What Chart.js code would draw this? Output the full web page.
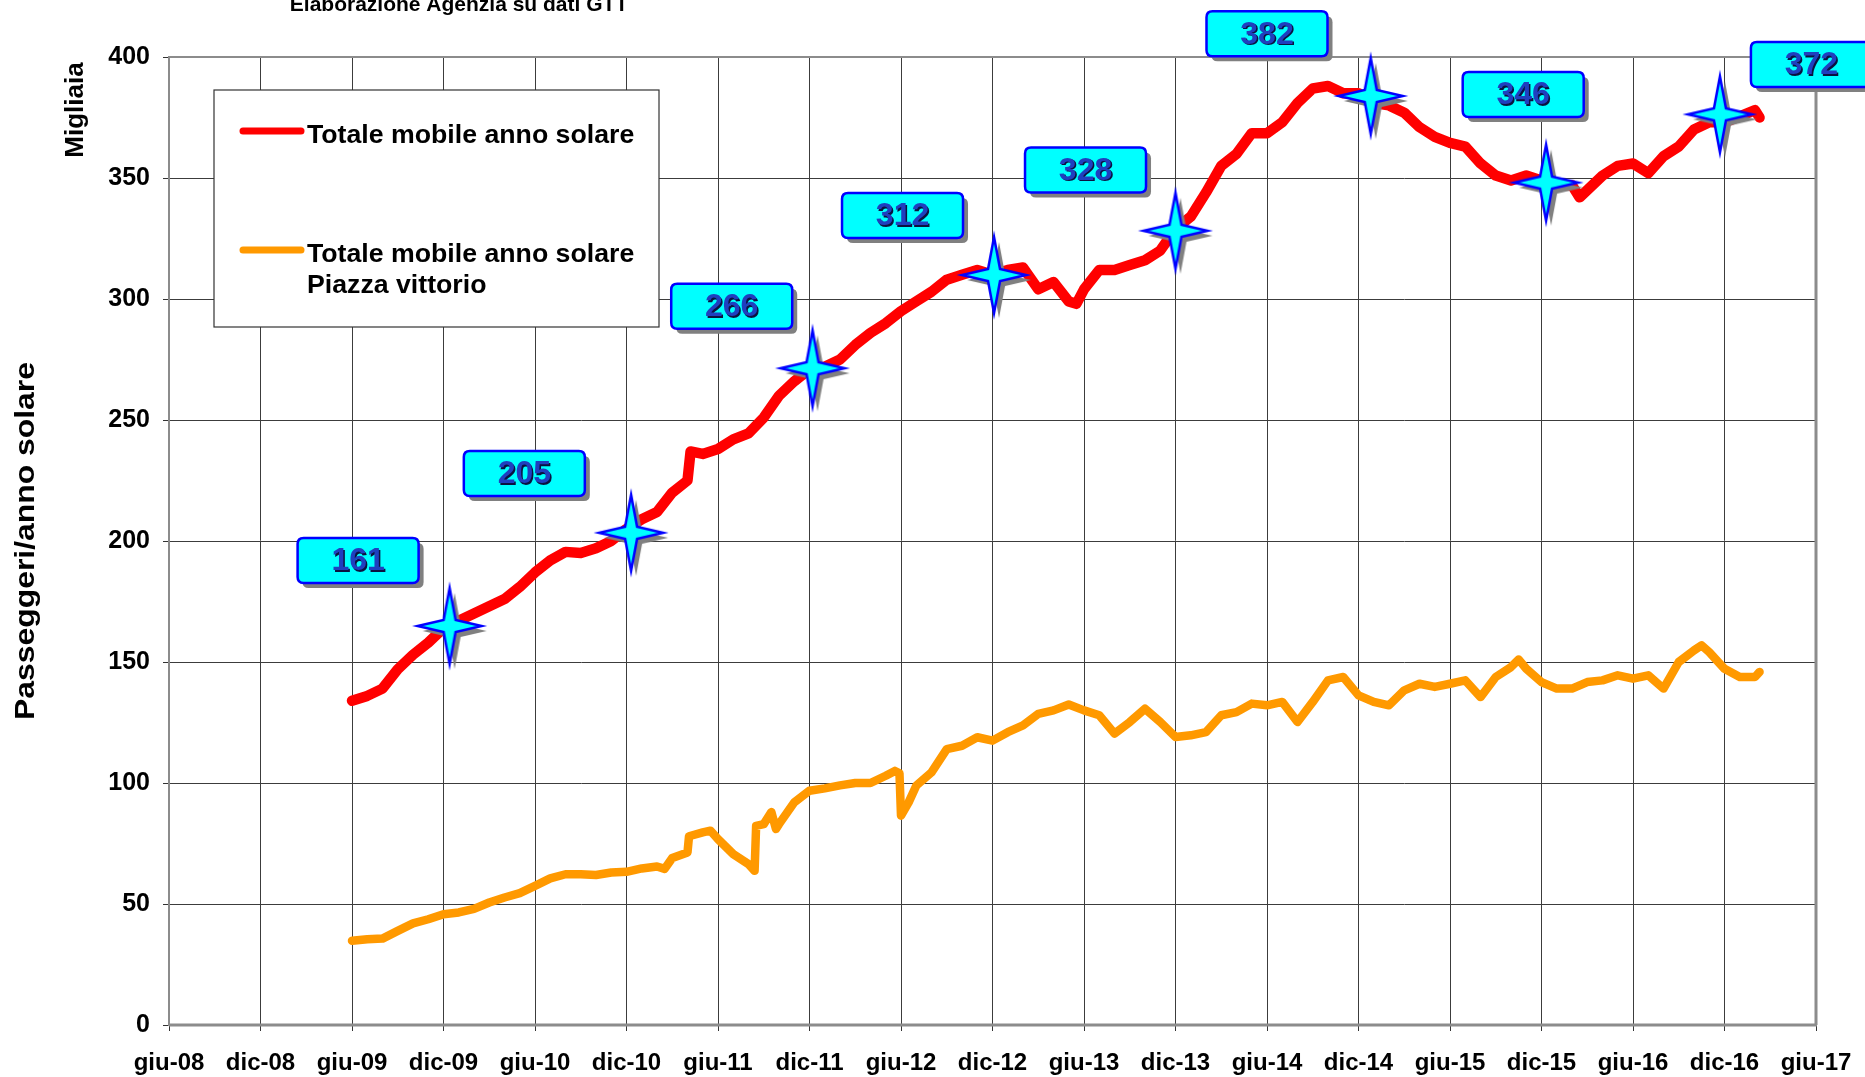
<!DOCTYPE html>
<html>
<head>
<meta charset="utf-8">
<script src="https://cdn.jsdelivr.net/npm/chart.js@4/dist/chart.umd.min.js"></script>
<style>
  body { margin: 0; background: #fff; }
  #passChart { display: block; }
</style>
</head>
<body>
<canvas id="passChart" width="1865" height="1077"></canvas>
<script>
// months counted from giu-08 (0) to giu-17 (108)
const xLabels = ['giu-08', 'dic-08', 'giu-09', 'dic-09', 'giu-10', 'dic-10', 'giu-11', 'dic-11',
  'giu-12', 'dic-12', 'giu-13', 'dic-13', 'giu-14', 'dic-14', 'giu-15', 'dic-15', 'giu-16', 'dic-16', 'giu-17'];

const redMonths = [12, 13, 14, 15, 16, 17, 18, 19, 20, 21, 22, 23, 24, 25, 26, 27, 28, 29, 30, 31, 32, 33, 34, 34.2,
  35, 36, 37, 38, 39, 40, 41, 42, 43, 44, 45, 46, 47, 48, 49, 50, 51, 52, 53, 54, 55, 56, 57, 58, 59, 59.5,
  60, 61, 62, 63, 64, 65, 66, 67, 68, 69, 70, 71, 72, 73, 74, 75, 76, 77, 78, 79, 80, 81, 82, 83, 84, 85,
  86, 87, 88, 89, 90, 91, 92, 92.5, 93, 94, 95, 96, 97, 98, 99, 100, 101, 102, 103, 104, 104.3];
const redValues = [134, 136, 139, 147, 153, 158, 164, 167, 170, 173, 176, 181, 187, 192, 195.5, 195, 197, 200, 205, 209, 212, 220, 225, 237,
  236, 238, 242, 244.5, 251, 260, 266, 271, 272, 275, 281, 286, 290, 295, 299, 303, 308, 310, 312, 310, 312, 313, 304, 307, 299, 298,
  304, 312, 312, 314, 316, 320, 329, 334, 344, 355, 360, 368.5, 368.5, 373, 381, 387, 388, 385, 385, 381, 380, 377, 371, 367, 364.5, 363,
  356, 351, 349, 351, 349, 347, 347, 342, 345, 351, 355, 356, 352, 359, 363, 370, 373, 373, 375.5, 378, 375];

const orangeMonths = [12, 13, 14, 15, 16, 17, 18, 19, 20, 21, 22, 23, 24, 25, 26, 27, 28, 29, 30, 31, 32, 32.5, 33, 34, 34.1,
  35, 35.5, 36, 37, 38, 38.4, 38.5, 39, 39.5, 39.8, 40, 41, 42, 43, 44, 45, 46, 47, 47.6, 47.9, 48, 48.5, 49, 50,
  51, 52, 53, 54, 55, 56, 57, 58, 59, 60, 61, 62, 63, 64, 65, 66, 67, 68, 69, 70, 71, 72, 73, 74, 75, 76, 77, 78,
  79, 80, 81, 82, 83, 84, 85, 86, 87, 88, 88.5, 89, 90, 91, 92, 93, 94, 95, 96, 97, 98, 99, 100, 100.5, 101, 102,
  103, 104, 104.3];
const orangeValues = [34.8, 35.4, 35.7, 38.9, 42, 43.7, 45.8, 46.5, 48, 50.6, 52.7, 54.5, 57.5, 60.6, 62.3, 62.3, 62, 63, 63.3, 64.7, 65.5, 64.5, 69, 71.3, 78,
  79.6, 80.3, 76.8, 70.6, 66.5, 63.7, 82.3, 83, 88, 81, 83, 92, 96.8, 97.8, 99, 100, 100, 103, 105, 104, 86.5, 92, 98.9, 104.4,
  114, 115.4, 118.9, 117.5, 121, 123.8, 128.6, 130, 132.4, 130, 128, 120.4, 125.2, 130.7, 125.2, 119, 119.7, 121, 128, 129.3, 132.8, 132.1, 133.5, 125.2, 133.5, 142.4, 143.8, 136.2,
  133.5, 132.1, 138.3, 141, 139.7, 141, 142.4, 135.5, 143.8, 147.9, 151, 147.2, 141.7, 139, 139, 141.7, 142.4, 144.5, 143.1, 144.5, 139, 150, 154.8, 156.9, 154.1, 147.2,
  143.8, 143.8, 145.9];

// highlighted points (stars) and their callout boxes
const starMonths = [18.4, 30.3, 42.2, 54.1, 66.0, 78.8, 90.3, 101.7];
const starValues = [164.9, 203.4, 271.4, 309.9, 328.2, 383.9, 348.1, 376.3];
const calloutText = ['161', '205', '266', '312', '328', '382', '346', '372'];
const calloutMonths = [12.4, 23.3, 36.9, 48.1, 60.1, 72.0, 88.8, 107.7];
const calloutValues = [191.9, 227.9, 297, 334.5, 353.3, 409.6, 384.5, 396.9];

const FONT = '"Liberation Sans", Arial, sans-serif';

function pairs(xs, ys) {
  return xs.map((x, i) => ({ x: x, y: ys[i] }));
}

function makeStar() {
  const c = document.createElement('canvas');
  c.width = 80;
  c.height = 96;
  const g = c.getContext('2d');
  const cx = 40, cy = 48, rx = 32, ry = 38, k = 6;
  const shape = (dx, dy) => {
    g.beginPath();
    g.moveTo(cx + dx, cy - ry + dy);
    g.lineTo(cx + k + dx, cy - k + dy);
    g.lineTo(cx + rx + dx, cy + dy);
    g.lineTo(cx + k + dx, cy + k + dy);
    g.lineTo(cx + dx, cy + ry + dy);
    g.lineTo(cx - k + dx, cy + k + dy);
    g.lineTo(cx - rx + dx, cy + dy);
    g.lineTo(cx - k + dx, cy - k + dy);
    g.closePath();
  };
  shape(5, 5);
  g.fillStyle = '#808080';
  g.fill();
  shape(0, 0);
  g.fillStyle = '#00ffff';
  g.fill();
  g.lineWidth = 2.5;
  g.strokeStyle = '#0000ff';
  g.stroke();
  return c;
}

function roundRect(ctx, x, y, w, h, r) {
  ctx.beginPath();
  ctx.moveTo(x + r, y);
  ctx.lineTo(x + w - r, y);
  ctx.quadraticCurveTo(x + w, y, x + w, y + r);
  ctx.lineTo(x + w, y + h - r);
  ctx.quadraticCurveTo(x + w, y + h, x + w - r, y + h);
  ctx.lineTo(x + r, y + h);
  ctx.quadraticCurveTo(x, y + h, x, y + h - r);
  ctx.lineTo(x, y + r);
  ctx.quadraticCurveTo(x, y, x + r, y);
  ctx.closePath();
}

const backgroundPlugin = {
  id: 'whiteBg',
  beforeDraw(chart) {
    const ctx = chart.ctx;
    ctx.save();
    ctx.fillStyle = '#fff';
    ctx.fillRect(0, 0, chart.width, chart.height);
    ctx.restore();
  },
  beforeDatasetsDraw(chart) {
    const a = chart.chartArea, ctx = chart.ctx;
    ctx.save();
    ctx.strokeStyle = '#8c8c8c';
    ctx.lineWidth = 2;
    ctx.strokeRect(a.left, a.top, a.right - a.left, a.bottom - a.top);
    ctx.lineWidth = 3;
    ctx.beginPath();
    ctx.moveTo(a.left, a.bottom);
    ctx.lineTo(a.right + 1, a.bottom);
    ctx.moveTo(a.right, a.top);
    ctx.lineTo(a.right, a.bottom);
    ctx.stroke();
    ctx.restore();
  }
};

const calloutPlugin = {
  id: 'callouts',
  afterDatasetsDraw(chart) {
    const ctx = chart.ctx;
    const xs = chart.scales.x, ys = chart.scales.y;
    const w = 121, h = 45;
    ctx.save();
    calloutText.forEach((t, i) => {
      const px = xs.getPixelForValue(calloutMonths[i]);
      const py = ys.getPixelForValue(calloutValues[i]);
      roundRect(ctx, px - w / 2 + 5, py - h / 2 + 5, w, h, 6);
      ctx.fillStyle = '#808080';
      ctx.fill();
      roundRect(ctx, px - w / 2, py - h / 2, w, h, 6);
      ctx.fillStyle = '#00ffff';
      ctx.fill();
      ctx.lineWidth = 2.5;
      ctx.strokeStyle = '#0000ff';
      ctx.stroke();
      ctx.font = 'bold 32px ' + FONT;
      ctx.textAlign = 'center';
      ctx.textBaseline = 'middle';
      ctx.fillStyle = '#0a1240';
      ctx.fillText(t, px + 1.5, py + 2.5);
      ctx.fillStyle = '#1f3fbf';
      ctx.fillText(t, px, py + 1);
    });
    ctx.restore();
  }
};

const legendPlugin = {
  id: 'boxLegend',
  afterDraw(chart) {
    const ctx = chart.ctx, a = chart.chartArea;
    const x0 = a.left + 45, y0 = a.top + 33;
    ctx.save();
    ctx.fillStyle = '#fff';
    ctx.fillRect(x0, y0, 445, 237);
    ctx.strokeStyle = '#333';
    ctx.lineWidth = 1.2;
    ctx.strokeRect(x0, y0, 445, 237);
    ctx.font = 'bold 26.7px ' + FONT;
    ctx.textAlign = 'left';
    ctx.textBaseline = 'middle';
    ctx.lineCap = 'round';
    const rows = [
      { ds: chart.data.datasets[1], dy: 42 },
      { ds: chart.data.datasets[0], dy: 161 }
    ];
    rows.forEach(r => {
      ctx.strokeStyle = r.ds.borderColor;
      ctx.lineWidth = 7;
      ctx.beginPath();
      ctx.moveTo(x0 + 29, y0 + r.dy - 1);
      ctx.lineTo(x0 + 87, y0 + r.dy - 1);
      ctx.stroke();
      ctx.fillStyle = '#000';
      [].concat(r.ds.legendLines).forEach((line, k) => {
        ctx.fillText(line, x0 + 93, y0 + r.dy + 4 + k * 31);
      });
    });
    ctx.restore();
  }
};

const titlesPlugin = {
  id: 'titles',
  afterDraw(chart) {
    const ctx = chart.ctx, a = chart.chartArea;
    ctx.save();
    ctx.fillStyle = '#000';
    ctx.textAlign = 'center';
    ctx.textBaseline = 'alphabetic';
    ctx.font = 'bold 21px ' + FONT;
    ctx.fillText('Elaborazione Agenzia su dati GTT', 459, 11);

    const vertical = (text, x, y, size, length) => {
      ctx.save();
      ctx.font = 'bold ' + size + 'px ' + FONT;
      const w = ctx.measureText(text).width;
      ctx.translate(x, y);
      ctx.rotate(-Math.PI / 2);
      if (length) ctx.scale(length / w, 1);
      ctx.textAlign = 'center';
      ctx.textBaseline = 'middle';
      ctx.fillText(text, 0, 0);
      ctx.restore();
    };
    vertical('Passeggeri/anno solare', 26, (a.top + a.bottom) / 2, 28, 358);
    vertical('Migliaia', 76, a.top + 53, 26);
    ctx.restore();
  }
};

const ctx = document.getElementById('passChart').getContext('2d');

new Chart(ctx, {
  type: 'line',
  data: {
    datasets: [
      {
        label: 'Totale mobile anno solare Piazza vittorio',
        legendLines: ['Totale mobile anno solare', 'Piazza vittorio'],
        data: pairs(orangeMonths, orangeValues),
        borderColor: '#ff9900',
        borderWidth: 8.5,
        pointRadius: 0,
        tension: 0,
        borderCapStyle: 'round',
        borderJoinStyle: 'round',
        order: 3
      },
      {
        label: 'Totale mobile anno solare',
        legendLines: ['Totale mobile anno solare'],
        data: pairs(redMonths, redValues),
        borderColor: '#ff0000',
        borderWidth: 10.5,
        pointRadius: 0,
        tension: 0,
        borderCapStyle: 'round',
        borderJoinStyle: 'round',
        order: 2
      },
      {
        label: 'stars',
        type: 'scatter',
        data: pairs(starMonths, starValues),
        pointStyle: makeStar(),
        pointRadius: 10,
        showLine: false,
        clip: false,
        order: 1
      }
    ]
  },
  options: {
    responsive: false,
    devicePixelRatio: 1,
    animation: false,
    layout: { padding: { top: 57, right: 49, left: 0, bottom: 0 } },
    plugins: {
      legend: { display: false },
      tooltip: { enabled: false }
    },
    scales: {
      x: {
        type: 'linear',
        min: 0,
        max: 108,
        afterFit: s => {
          s.height = 52;
          s.paddingLeft = 0;
          s.paddingRight = 0;
        },
        ticks: {
          stepSize: 6,
          autoSkip: false,
          maxRotation: 0,
          padding: 18,
          color: '#000',
          font: { family: FONT, size: 24, weight: 'bold' },
          callback: v => xLabels[Math.round(v / 6)]
        },
        grid: { color: '#3c3c3c', lineWidth: 1, tickLength: 6, tickColor: '#333' },
        border: { color: '#8c8c8c', width: 2 }
      },
      y: {
        min: 0,
        max: 400,
        afterFit: s => { s.width = 169; },
        ticks: {
          stepSize: 50,
          padding: 13,
          color: '#000',
          font: { family: FONT, size: 25, weight: 'bold' }
        },
        grid: { color: '#3c3c3c', lineWidth: 1, tickLength: 6, tickColor: '#333' },
        border: { color: '#8c8c8c', width: 2 }
      }
    }
  },
  plugins: [backgroundPlugin, calloutPlugin, legendPlugin, titlesPlugin]
});
</script>
</body>
</html>
